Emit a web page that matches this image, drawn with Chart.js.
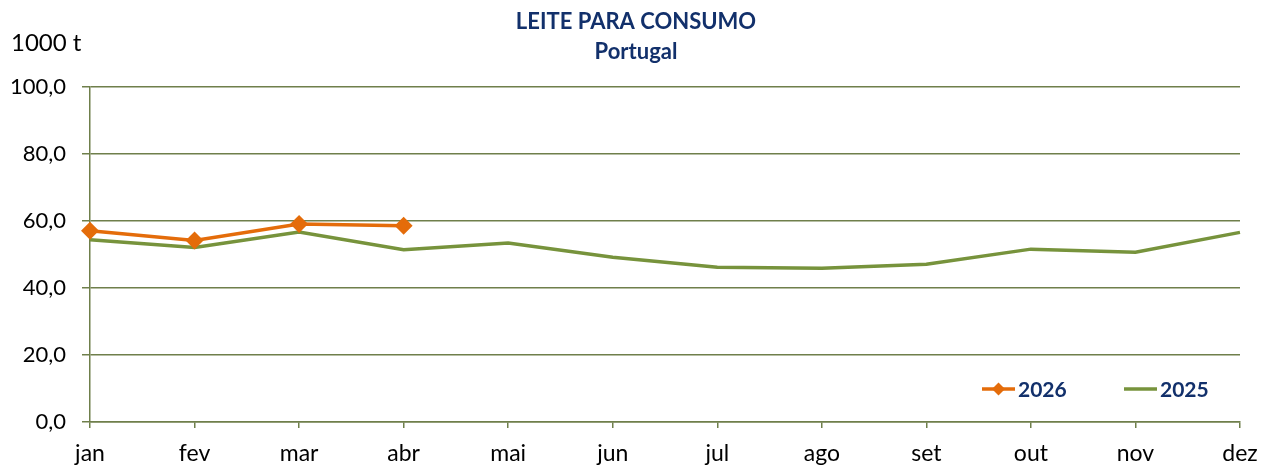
<!DOCTYPE html>
<html>
<head>
<meta charset="utf-8">
<script src="https://cdn.jsdelivr.net/npm/chart.js@4"></script>
<style>
html,body{margin:0;padding:0;background:#fff;}
#wrap{width:1261px;height:468px;position:relative;}
</style>
</head>
<body>
<div id="wrap"><canvas id="c" width="1261" height="468"></canvas></div>
<script>
const months = ['jan','fev','mar','abr','mai','jun','jul','ago','set','out','nov','dez'];
const values2026 = [57.1, 54.2, 59.1, 58.6];
const values2025 = [54.4, 52.1, 56.7, 51.4, 53.4, 49.2, 46.2, 45.9, 47.1, 51.6, 50.7, 56.6];
const titleLines = ['LEITE PARA CONSUMO', 'Portugal'];
const unitLabel = '1000 t';
const seriesNames = ['2026', '2025'];

const FONT = 'Lato, "Open Sans", sans-serif';
const NAVY = '#12306B';
const GRID = '#6F7F4B';
const ORANGE = '#E46C0A';
const GREEN = '#77933C';

const textPlugin = {
  id: 'texts',
  afterDraw(chart) {
    const ctx = chart.ctx;
    ctx.save();
    ctx.fillStyle = NAVY;
    ctx.textAlign = 'center';
    ctx.textBaseline = 'middle';
    ctx.font = 'bold 22px ' + FONT;
    ctx.fillText(titleLines[0], 636, 22);
    ctx.fillText(titleLines[1], 636, 52);
    ctx.fillStyle = '#000';
    ctx.textAlign = 'left';
    ctx.font = '24px ' + FONT;
    ctx.fillText(unitLabel, 11, 43);
    // legend inside plot area
    const items = [
      {ds: chart.data.datasets[0], x: 982},
      {ds: chart.data.datasets[1], x: 1124}
    ];
    const ly = 389;
    items.forEach(it => {
      ctx.strokeStyle = it.ds.borderColor;
      ctx.lineWidth = it.ds.borderWidth;
      ctx.beginPath();
      ctx.moveTo(it.x, ly);
      ctx.lineTo(it.x + 33, ly);
      ctx.stroke();
      if (it.ds.pointRadius > 0) {
        const r = it.ds.pointRadius;
        const cx = it.x + 16.5;
        ctx.fillStyle = it.ds.pointBackgroundColor;
        ctx.beginPath();
        ctx.moveTo(cx, ly - r);
        ctx.lineTo(cx + r, ly);
        ctx.lineTo(cx, ly + r);
        ctx.lineTo(cx - r, ly);
        ctx.closePath();
        ctx.fill();
      }
      ctx.fillStyle = NAVY;
      ctx.font = 'bold 21px ' + FONT;
      ctx.textAlign = 'left';
      ctx.textBaseline = 'middle';
      ctx.fillText(it.ds.label, it.x + 36, ly + 1);
    });
    ctx.restore();
  }
};

new Chart(document.getElementById('c'), {
  type: 'line',
  data: {
    labels: months,
    datasets: [
      {
        label: seriesNames[0],
        data: values2026,
        borderColor: ORANGE,
        backgroundColor: ORANGE,
        pointBackgroundColor: ORANGE,
        pointBorderColor: ORANGE,
        borderWidth: 3.5,
        pointStyle: 'rectRot',
        pointRadius: 6.5,
        pointHoverRadius: 6.5,
        tension: 0,
        order: 0
      },
      {
        label: seriesNames[1],
        data: values2025,
        borderColor: GREEN,
        backgroundColor: GREEN,
        borderWidth: 3.5,
        pointRadius: 0,
        pointHoverRadius: 0,
        tension: 0,
        order: 1
      }
    ]
  },
  options: {
    responsive: false,
    animation: false,
    devicePixelRatio: 1,
    layout: { padding: { top: 87, right: 21, left: 0, bottom: 0 } },
    plugins: {
      legend: { display: false },
      title: { display: false },
      tooltip: { enabled: false }
    },
    scales: {
      x: {
        type: 'category',
        offset: false,
        grid: {
          drawOnChartArea: false,
          drawTicks: true,
          tickLength: 6,
          color: GRID,
          lineWidth: 1.5
        },
        border: { display: true, color: GRID, width: 1.5 },
        ticks: {
          color: '#000',
          font: { family: FONT, size: 23 },
          padding: 12,
          maxRotation: 0,
          autoSkip: false
        },
        afterFit(scale) { scale.height = 46; scale.paddingRight = 0; scale.paddingLeft = 0; }
      },
      y: {
        min: 0,
        max: 100,
        grid: {
          color: GRID,
          lineWidth: 1.5,
          drawTicks: true,
          tickLength: 8
        },
        border: { display: true, color: GRID, width: 1.5 },
        ticks: {
          stepSize: 20,
          color: '#000',
          font: { family: FONT, size: 22 },
          padding: 16,
          callback: v => v.toFixed(1).replace('.', ',')
        },
        afterFit(scale) { scale.width = 90; scale.paddingTop = 0; scale.paddingBottom = 0; }
      }
    }
  },
  plugins: [textPlugin]
});
</script>
</body>
</html>
